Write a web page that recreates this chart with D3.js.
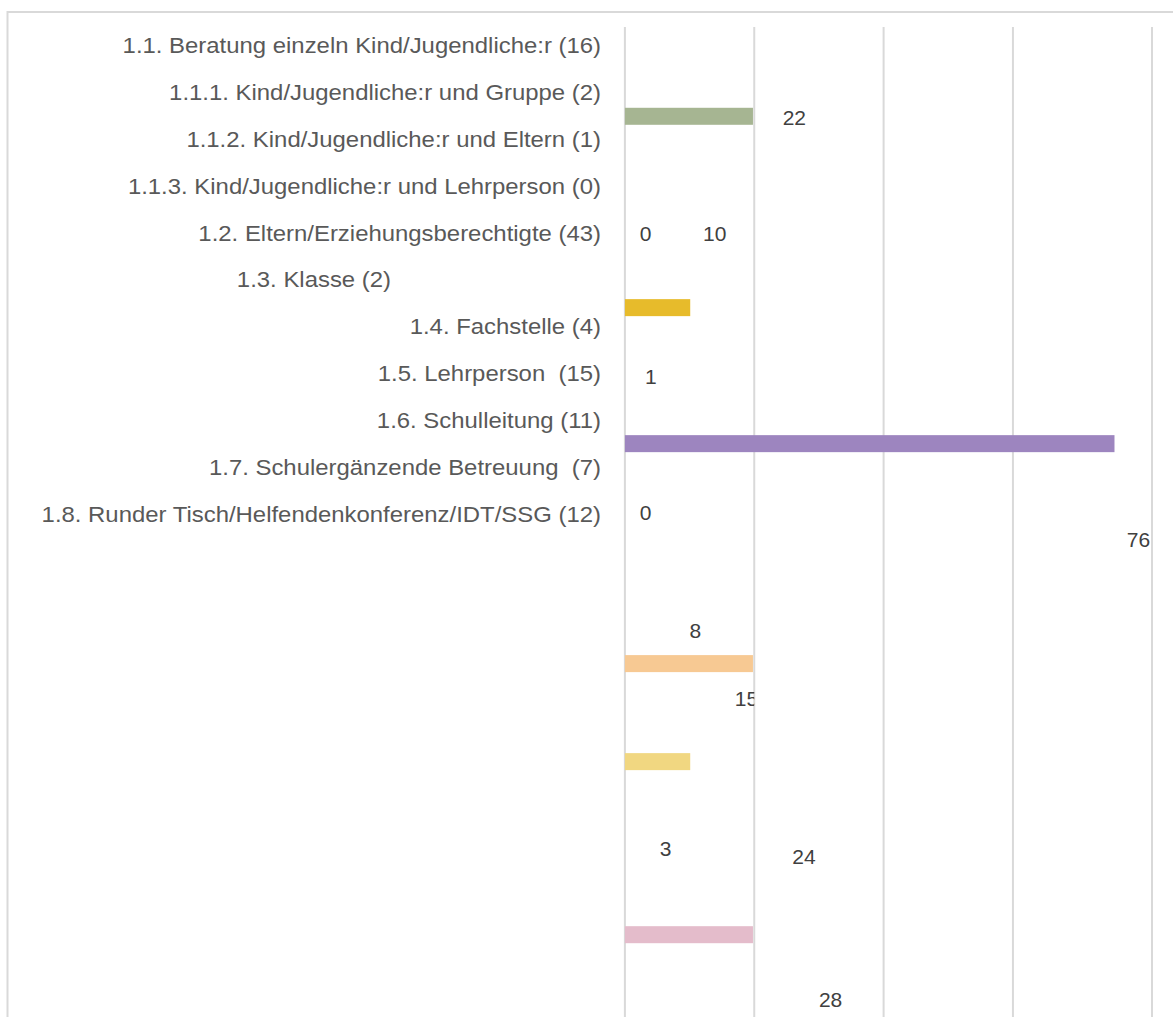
<!DOCTYPE html>
<html>
<head>
<meta charset="utf-8">
<style>
  body { margin: 0; background: #fff; }
  text { font-family: "Liberation Sans", Arial, sans-serif; white-space: pre; }
</style>
</head>
<body>
<svg width="1173" height="1017"></svg>
<script src="https://d3js.org/d3.v7.min.js"></script>
<script>

// categories shown on the left
var categories = [
  "1.1. Beratung einzeln Kind/Jugendliche:r (16)",
  "1.1.1. Kind/Jugendliche:r und Gruppe (2)",
  "1.1.2. Kind/Jugendliche:r und Eltern (1)",
  "1.1.3. Kind/Jugendliche:r und Lehrperson (0)",
  "1.2. Eltern/Erziehungsberechtigte (43)",
  "1.3. Klasse (2)",
  "1.4. Fachstelle (4)",
  "1.5. Lehrperson  (15)",
  "1.6. Schulleitung (11)",
  "1.7. Schulergänzende Betreuung  (7)",
  "1.8. Runder Tisch/Helfendenkonferenz/IDT/SSG (12)"
];

// bars as they sit in the picture (row = position in label rows)
var barValues = [19.8, 10.1, 75.7, 19.8, 10.1, 19.8];
var barRows   = [1.52, 5.60, 8.50, 13.19, 15.28, 18.97];
var barColors = ["#a6b592", "#e7bb2b", "#9d85bf", "#f7c993", "#f1d781", "#e4bccb"];

// data labels, scattered as in the picture
var labelTexts = ["22", "0", "10", "1", "0", "76", "8", "15", "3", "24", "28"];
var labelX     = [26.2, 3.2, 13.9, 4.0, 3.2, 79.4, 10.9, 18.8, 6.3, 27.7, 31.8];
var labelRows  = [1.54, 4.01, 4.01, 7.06, 9.97, 10.55, 12.49, 13.94, 17.14, 17.31, 20.34];

var gridTicks = [0, 20, 40, 60];

var svg = d3.select("svg");

var x = d3.scaleLinear().domain([0, 81.5]).range([624.9, 1152]);
var y = d3.scaleLinear().domain([0, 1]).range([45, 91.9]);
var barH = 17;

// outer border
svg.append("rect")
    .attr("x", 7.5).attr("y", 12)
    .attr("width", 1300).attr("height", 1100)
    .attr("fill", "none")
    .attr("stroke", "#d9d9d9")
    .attr("stroke-width", 2);

// gridlines
svg.append("g")
  .selectAll("line")
  .data(gridTicks.concat([x.domain()[1]]))
  .join("line")
    .attr("x1", function(d) { return x(d); })
    .attr("x2", function(d) { return x(d); })
    .attr("y1", 27).attr("y2", 1017)
    .attr("stroke", "#d9d9d9")
    .attr("stroke-width", 2);

// category labels
var labelShift = { 5: -210 };
svg.append("g")
  .selectAll("text")
  .data(categories)
  .join("text")
    .attr("transform", function(d, i) {
      return "translate(" + (601 + (labelShift[i] || 0)) + "," + y(i) + ") scale(1.087,1)";
    })
    .attr("text-anchor", "end")
    .attr("dy", "0.36em")
    .attr("font-size", 22)
    .attr("fill", "#595959")
    .text(function(d) { return d; });

// bars
svg.append("g")
  .selectAll("rect")
  .data(barValues)
  .join("rect")
    .attr("x", x(0))
    .attr("y", function(d, i) { return y(barRows[i]) - barH / 2; })
    .attr("width", function(d) { return x(d) - x(0); })
    .attr("height", barH)
    .attr("fill", function(d, i) { return barColors[i]; });

// data labels, each clipped to the grid cell it starts in
var edges = gridTicks.concat([x.domain()[1]]).map(x);
var defs = svg.append("defs");
var lg = svg.append("g");
labelTexts.forEach(function(t, i) {
  var cx = x(labelX[i]);
  var right = edges.find(function(e) { return e > cx - 12; }) || 2000;
  defs.append("clipPath").attr("id", "c" + i)
    .append("rect").attr("x", 0).attr("y", 0).attr("width", right).attr("height", 1017);
  lg.append("text")
    .attr("clip-path", "url(#c" + i + ")")
    .attr("x", cx)
    .attr("y", y(labelRows[i]))
    .attr("dy", "0.36em")
    .attr("text-anchor", "middle")
    .attr("font-size", 21)
    .attr("fill", "#404040")
    .text(t);
});

</script>
</body>
</html>
